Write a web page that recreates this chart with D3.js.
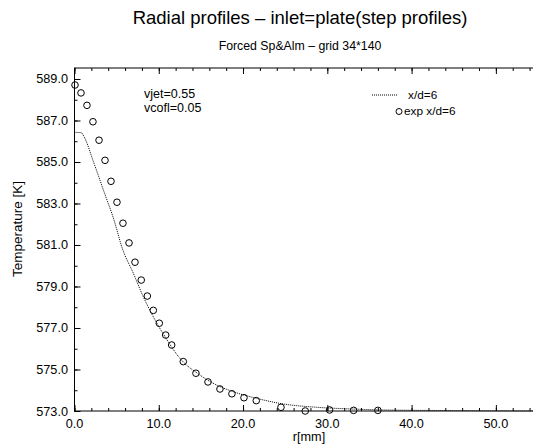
<!DOCTYPE html>
<html>
<head>
<meta charset="utf-8">
<script src="https://d3js.org/d3.v7.min.js"></script>
<style>
  body { margin: 0; background: #fff; }
  text { font-family: 'Liberation Sans', Arial, sans-serif; fill: #000; }
</style>
</head>
<body>
<script>
// variables:
var w = 533
var h = 448
var left = 74.5
var right = 538
var top_ = 68
var bottom = 411

// data: computed profile (dotted line)
var lineR = [0, 0.81, 1.13, 2.31, 3.5, 4.69, 5.67, 6.98, 8.16, 9.35, 10.74, 12.51, 14.89, 16.87, 18.84, 21.61, 24.77, 28.73, 32.68, 36.63, 45, 55]
var lineT = [586.43, 586.41, 586.22, 584.94, 583.57, 582.2, 580.84, 579.64, 578.51, 577.54, 576.58, 575.54, 574.73, 574.25, 573.93, 573.61, 573.34, 573.18, 573.1, 573.05, 573.02, 573.0]

// data: experiment (circles)
var expR = [0.06, 0.77, 1.48, 2.19, 2.91, 3.62, 4.33, 5.04, 5.75, 6.47, 7.18, 7.92, 8.64, 9.35, 10.06, 10.82, 11.53, 12.91, 14.41, 15.84, 17.26, 18.68, 20.11, 21.57, 24.5, 27.38, 30.27, 33.12, 36.0]
var expT = [588.71, 588.33, 587.73, 586.94, 586.05, 585.08, 584.07, 583.06, 582.05, 581.1, 580.17, 579.31, 578.54, 577.85, 577.23, 576.66, 576.18, 575.38, 574.82, 574.4, 574.06, 573.83, 573.64, 573.5, 573.18, 573.0, 573.05, 573.03, 573.03]

// axis ticks
var xMajor = [0, 10, 20, 30, 40, 50]
var yMajor = [573, 575, 577, 579, 581, 583, 585, 587, 589]

var svg = d3.select('body')
  .append('svg')
  .attr('width', w)
  .attr('height', h)

var xScale = d3.scaleLinear()
  .domain([0, 55])
  .range([left, right])

var yScale = d3.scaleLinear()
  .domain([573, 589.53])
  .range([bottom, top_])

// titles
svg.append('text')
  .attr('x', 300)
  .attr('y', 24)
  .attr('text-anchor', 'middle')
  .attr('font-size', '18.5px')
  .text('Radial profiles \u2013 inlet=plate(step profiles)')

svg.append('text')
  .attr('x', 300)
  .attr('y', 50)
  .attr('text-anchor', 'middle')
  .attr('font-size', '12.3px')
  .text('Forced Sp&Alm \u2013 grid 34*140')

// frame
svg.append('rect')
  .attr('x', left)
  .attr('y', top_)
  .attr('width', right - left)
  .attr('height', bottom - top_)
  .attr('fill', 'none')
  .attr('stroke', '#000')
  .attr('stroke-width', 1)

// axes, ticks inward
var xMinor = d3.range(0, 55.01, 2)
var yMinor = d3.range(573, 589.6, 1)

svg.append('g')
  .attr('transform', 'translate(0,' + bottom + ')')
  .call(d3.axisTop(xScale).tickValues(xMinor).tickSize(3).tickFormat(''))
svg.append('g')
  .attr('transform', 'translate(0,' + bottom + ')')
  .call(d3.axisTop(xScale).tickValues(xMajor).tickSize(6).tickFormat(''))
svg.append('g')
  .attr('transform', 'translate(0,' + top_ + ')')
  .call(d3.axisBottom(xScale).tickValues(xMinor).tickSize(3).tickFormat(''))
svg.append('g')
  .attr('transform', 'translate(0,' + top_ + ')')
  .call(d3.axisBottom(xScale).tickValues(xMajor).tickSize(6).tickFormat(''))
svg.append('g')
  .attr('transform', 'translate(' + left + ',0)')
  .call(d3.axisRight(yScale).tickValues(yMinor).tickSize(3).tickFormat(''))
svg.append('g')
  .attr('transform', 'translate(' + left + ',0)')
  .call(d3.axisRight(yScale).tickValues(yMajor).tickSize(6).tickFormat(''))
svg.selectAll('.domain').remove()

// tick labels
svg.selectAll('.xlab')
  .data(xMajor)
  .enter()
  .append('text')
  .attr('x', function (d) { return xScale(d) })
  .attr('y', bottom + 17)
  .attr('text-anchor', 'middle')
  .attr('font-size', '12.7px')
  .text(function (d) { return d.toFixed(1) })

svg.selectAll('.ylab')
  .data(yMajor)
  .enter()
  .append('text')
  .attr('x', left - 6.5)
  .attr('y', function (d) { return yScale(d) + 4.5 })
  .attr('text-anchor', 'end')
  .attr('font-size', '12.7px')
  .text(function (d) { return d.toFixed(1) })

// axis titles
svg.append('text')
  .attr('x', 309)
  .attr('y', 441)
  .attr('text-anchor', 'middle')
  .attr('font-size', '12.7px')
  .text('r[mm]')

svg.append('text')
  .attr('transform', 'translate(21.5,229) rotate(-90)')
  .attr('text-anchor', 'middle')
  .attr('font-size', '13.5px')
  .text('Temperature [K]')

// computed line
var line = d3.line()
  .x(function (d) { return xScale(d) })
  .y(function (d, i) { return yScale(lineT[i]) })
  .curve(d3.curveMonotoneX)

svg.append('path')
  .attr('d', line(lineR))
  .attr('fill', 'none')
  .attr('stroke', '#000')
  .attr('stroke-width', 1)
  .attr('stroke-dasharray', '1,1')

// exp circles
svg.selectAll('circle.exp')
  .data(expR)
  .enter()
  .append('circle')
  .attr('class', 'exp')
  .attr('cx', function (d) { return xScale(d) })
  .attr('cy', function (d, i) { return yScale(expT[i]) })
  .attr('r', 3.3)
  .attr('fill', 'none')
  .attr('stroke', '#000')
  .attr('stroke-width', 1)

// annotations
svg.append('text')
  .attr('x', 144)
  .attr('y', 97.5)
  .attr('font-size', '12.5px')
  .text('vjet=0.55')
svg.append('text')
  .attr('x', 144)
  .attr('y', 111.5)
  .attr('font-size', '12.5px')
  .text('vcofl=0.05')

// legend
svg.append('line')
  .attr('x1', 372)
  .attr('x2', 398)
  .attr('y1', 95)
  .attr('y2', 95)
  .attr('stroke', '#000')
  .attr('stroke-dasharray', '1,1')
svg.append('text')
  .attr('x', 408)
  .attr('y', 98.5)
  .attr('font-size', '11.8px')
  .text('x/d=6')
svg.append('circle')
  .attr('cx', 399)
  .attr('cy', 111.5)
  .attr('r', 3)
  .attr('fill', 'none')
  .attr('stroke', '#000')
svg.append('text')
  .attr('x', 404)
  .attr('y', 115)
  .attr('font-size', '11.8px')
  .text('exp x/d=6')
</script>
</body>
</html>
